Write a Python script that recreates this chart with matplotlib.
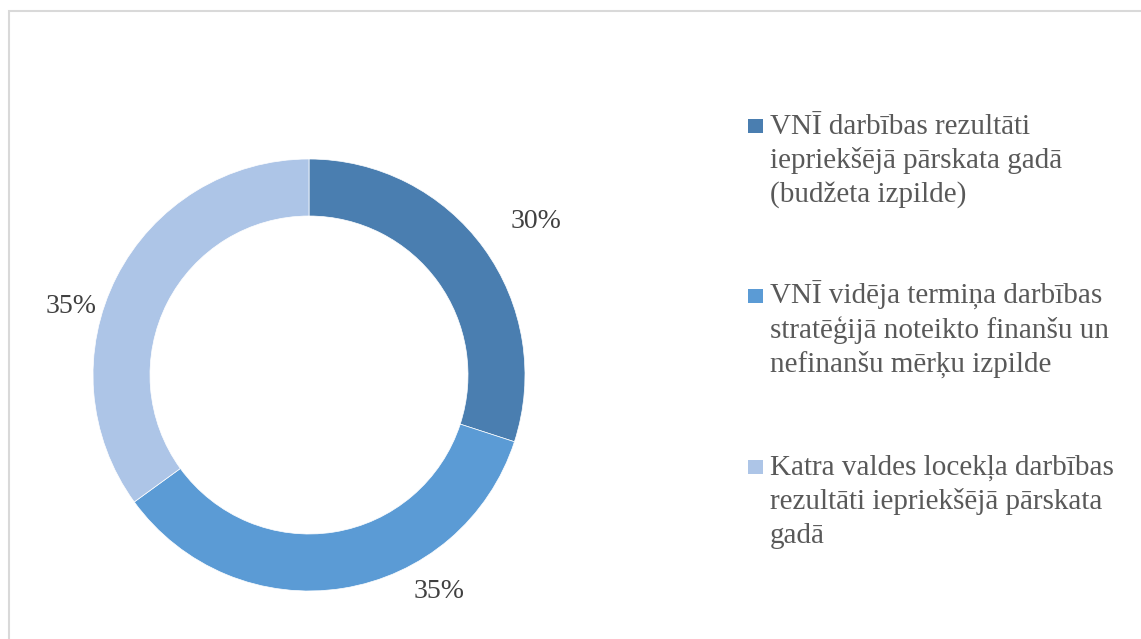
import matplotlib.pyplot as plt
from matplotlib.patches import Rectangle
import numpy as np

categories = [
    "VNĪ darbības rezultāti\niepriekšējā pārskata gadā\n(budžeta izpilde)",
    "VNĪ vidēja termiņa darbības\nstratēģijā noteikto finanšu un\nnefinanšu mērķu izpilde",
    "Katra valdes locekļa darbības\nrezultāti iepriekšējā pārskata\ngadā",
]
shares = [30, 35, 35]
share_labels = ["30%", "35%", "35%"]
colors = ["#4a7eb0", "#5b9bd5", "#adc5e7"]

# label placement (angle in degrees, distance in px from centre)
label_angles = [34, -59, 164]
label_radii = [274, 252, 248]

W, H = 1141, 639
fig = plt.figure(figsize=(W / 100, H / 100), dpi=100)
ax = fig.add_axes([0, 0, 1, 1])

# chart border
ax.add_patch(Rectangle((9, -5), W, H - 11 + 5, fill=False,
                       edgecolor="#d9d9d9", linewidth=1.5))

cx, cy, r = 309, H - 375, 216
ax.pie(shares, colors=colors, startangle=90, counterclock=False,
       center=(cx, cy), radius=r, frame=True,
       wedgeprops=dict(width=57, edgecolor="white", linewidth=0.5))
ax.set_xlim(0, W)
ax.set_ylim(0, H)
ax.set_aspect("auto")
ax.axis("off")

for lab, a, d in zip(share_labels, label_angles, label_radii):
    t = np.deg2rad(a)
    ax.text(cx + d * np.cos(t), cy + d * np.sin(t), lab, ha="center", va="center",
            fontsize=20, family="Liberation Serif", color="#404040")

# legend, one text per line so the marker sits on the first line
leg_y = [H - 126, H - 296, H - 467]
line_gap = 34
for name, col, y in zip(categories, colors, leg_y):
    ax.add_patch(Rectangle((748, y - 7), 15, 14, facecolor=col, edgecolor="none"))
    for i, line in enumerate(name.split("\n")):
        ax.text(770, y - 8 - i * line_gap, line, ha="left", va="baseline",
                fontsize=21, family="Liberation Serif", color="#595959")

fig.savefig("out.png", dpi=100)
